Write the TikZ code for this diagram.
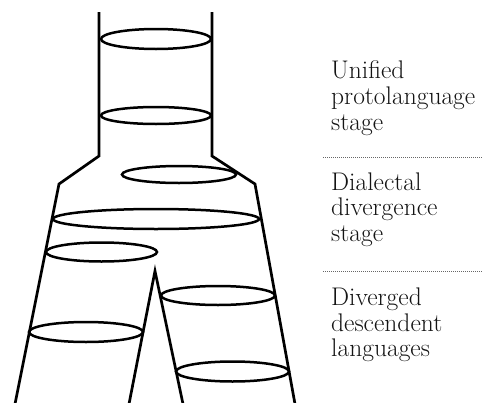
\documentclass[tikz,border=0pt]{standalone}
\begin{document}
\begin{tikzpicture}[x=1pt,y=-1pt,
  outline/.style={line width=2.7pt,line join=miter,line cap=butt,black},
  ring/.style={line width=2.5pt,black},
  sep/.style={line width=1pt,draw=black!60,dash pattern=on 0.9pt off 1.1pt},
  lbl/.style={anchor=base west,inner sep=0pt,text=black!92,font=\fontsize{25.5}{27}\selectfont}]
\useasboundingbox (0,0) rectangle (482,402);
\coordinate (tl) at (99,12);
\coordinate (tr) at (212,12);
\coordinate (nl) at (99,156);
\coordinate (nr) at (212,156);
\coordinate (sl) at (59,184);
\coordinate (sr) at (255,184);
\coordinate (bl) at (15,404);
\coordinate (br) at (295,404);
\coordinate (apex) at (155,271);
\coordinate (il) at (129,404);
\coordinate (ir) at (183,404);
\draw[outline] (tl) -- (nl) -- (sl) -- (bl);
\draw[outline] (tr) -- (nr) -- (sr) -- (br);
\draw[outline] (il) -- (apex) -- (ir);
\draw[ring] (156,39) ellipse [x radius=55pt,y radius=10pt];
\draw[ring] (156,115.5) ellipse [x radius=55pt,y radius=8.5pt];
\draw[ring] (179,174.5) ellipse [x radius=57pt,y radius=8.5pt];
\draw[ring] (156,219) ellipse [x radius=103pt,y radius=10pt];
\draw[ring] (101.5,252) ellipse [x radius=55.5pt,y radius=9.5pt];
\draw[ring] (218,295.5) ellipse [x radius=57pt,y radius=9.5pt];
\draw[ring] (86,332) ellipse [x radius=57pt,y radius=10pt];
\draw[ring] (232.5,371.5) ellipse [x radius=56.5pt,y radius=10pt];
\coordinate (s1a) at (323,157);
\coordinate (s1b) at (482,157);
\coordinate (s2a) at (323,271);
\coordinate (s2b) at (482,271);
\draw[sep] (s1a) -- (s1b);
\draw[sep] (s2a) -- (s2b);
\node[lbl] (a1) at (331,78.5) {Unified};
\node[lbl] (a2) at (331,104.5) {protolanguage};
\node[lbl] (a3) at (331,130.5) {stage};
\node[lbl] (b1) at (331,190) {Dialectal};
\node[lbl] (b2) at (331,215.5) {divergence};
\node[lbl] (b3) at (331,241) {stage};
\node[lbl] (c1) at (331,305) {Diverged};
\node[lbl] (c2) at (331,331) {descendent};
\node[lbl] (c3) at (331,356.5) {languages};
\end{tikzpicture}
\end{document}
